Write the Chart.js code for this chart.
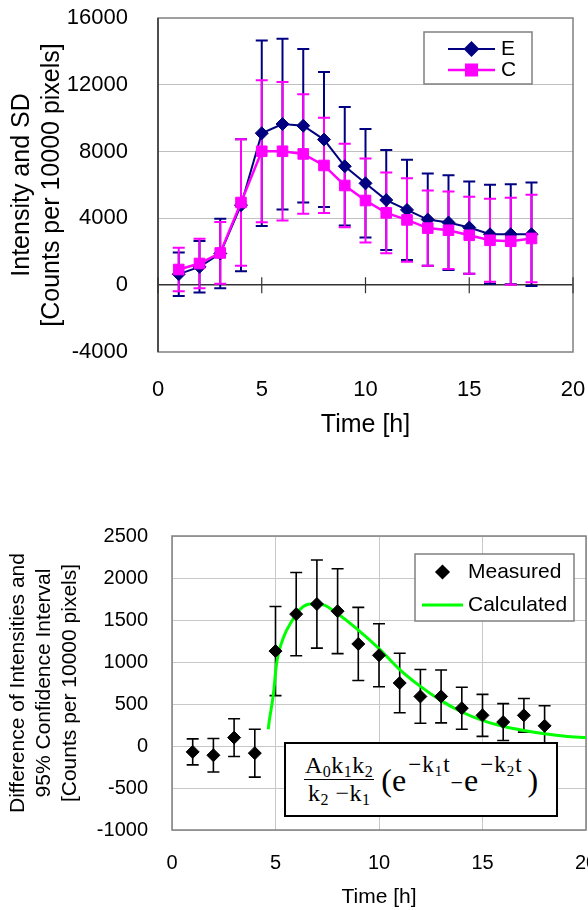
<!DOCTYPE html>
<html>
<head>
<meta charset="utf-8">
<title>Intensity charts</title>
<script src="https://cdn.jsdelivr.net/npm/chart.js@4.4.0/dist/chart.umd.min.js"></script>
<style>
  html, body { margin: 0; padding: 0; background: #fff; }
  #wrap { position: relative; width: 588px; height: 910px; overflow: hidden; }
  #topChart { position: absolute; left: 0; top: 0; }
  #bottomChart { position: absolute; left: 0; top: 460px; }
  #formula {
    position: absolute; left: 284px; top: 742px; width: 252px; height: 71px;
    border: 2px solid #000; background: #fff;
    font-family: "Liberation Serif", "Times New Roman", serif; color: #000;
    display: flex; align-items: center; padding-left: 18px; box-sizing: content-box;
    white-space: nowrap;
  }
  #formula .frac { display: inline-flex; flex-direction: column; align-items: center; font-size: 24px; line-height: 27px; letter-spacing: 0.5px; }
  #formula .num { border-bottom: 1.5px solid #000; padding: 0 1px 0; }
  #formula .den { padding-top: 0; }
  #formula sub { font-size: 16px; vertical-align: -4px; line-height: 0; }
  #formula .big { font-size: 32px; margin-left: 7px; line-height: 1; }
  #formula sup { font-size: 23px; vertical-align: 19px; line-height: 0; letter-spacing: 1px; margin-left: 2px; }
  #formula sup sub { font-size: 15px; vertical-align: -4px; }
  #formula .minus { font-size: 22px; vertical-align: 1px; margin-right: 1px; }
  #formula .close { margin-left: 5px; }
</style>
</head>
<body>
<div id="wrap">
  <canvas id="topChart" width="588" height="460"></canvas>
  <canvas id="bottomChart" width="588" height="450"></canvas>
  <div id="formula">
    <span class="frac"><span class="num">A<sub>0</sub>k<sub>1</sub>k<sub>2</sub></span><span class="den">k<sub>2</sub> &minus;k<sub>1</sub></span></span><span class="big">(e<sup>&minus;k<sub>1</sub>t</sup><span class="minus">&minus;</span>e<sup>&minus;k<sub>2</sub>t</sup><span class="close">)</span></span>
  </div>
</div>
<script>
// Top chart data
const hours = [1, 2, 3, 4, 5, 6, 7, 8, 9, 10, 11, 12, 13, 14, 15, 16, 17, 18];
const intensityE = [660, 1100, 1900, 4790, 9100, 9650, 9550, 8720, 7120, 6100, 5100, 4510, 3930, 3750, 3450, 3050, 3050, 3050];
const sdE = [1300, 1540, 2080, 3950, 5550, 5110, 4600, 4040, 3550, 3250, 2990, 3000, 2760, 2840, 2760, 2960, 3000, 3100];
const intensityC = [940, 1300, 1930, 4950, 8020, 8020, 7860, 7170, 5970, 5070, 4330, 3910, 3420, 3290, 2990, 2690, 2630, 2800];
const sdC = [1300, 1480, 1850, 3790, 4250, 4150, 3580, 2850, 2500, 2520, 2420, 2500, 2250, 2320, 2310, 2480, 2600, 2620];
const topYTicks = [-4000, 0, 4000, 8000, 12000, 16000];

// Bottom chart data
const diffMeasured = [-70, -110, 100, -85, 1130, 1570, 1690, 1605, 1215, 1080, 750, 590, 590, 450, 365, 285, 365, 240];
const diffCI = [155, 200, 225, 285, 530, 495, 525, 505, 435, 375, 355, 320, 315, 250, 250, 220, 200, 240];
const calcTime = [4.65, 4.7, 4.9, 5.05, 5.4, 5.8, 6.2, 6.7, 7.15, 8, 9, 10, 11, 12, 13, 14, 15, 16, 17, 18, 19, 20];
const calcValue = [200, 300, 620, 980, 1300, 1490, 1630, 1690, 1690, 1575, 1380, 1160, 910, 710, 540, 405, 305, 235, 185, 145, 115, 100];
const bottomYTicks = [-1000, -500, 0, 500, 1000, 1500, 2000, 2500];

const timeTicks = [0, 5, 10, 15, 20];

const FONT = "'Liberation Sans', Arial, sans-serif";

function pts(xs, ys) {
    return xs.map((x, i) => ({ x: x, y: ys[i] }));
}

// plain numbers, no thousands separator
const plain = v => String(v);

// plot frame + optional zero axis with tick marks
const frame = {
    id: 'frame',
    beforeDatasetsDraw(chart, args, opts) {
        const a = chart.chartArea;
        const ctx = chart.ctx;
        ctx.save();
        ctx.strokeStyle = opts.color || '#808080';
        ctx.lineWidth = 1.5;
        ctx.strokeRect(a.left, a.top, a.right - a.left, a.bottom - a.top);
        if (opts.leftColor) {
            ctx.strokeStyle = opts.leftColor;
            ctx.beginPath();
            ctx.moveTo(a.left, a.top);
            ctx.lineTo(a.left, a.bottom);
            ctx.stroke();
        }
        if (opts.zeroTicks) {
            const y0 = chart.scales.y.getPixelForValue(0);
            ctx.strokeStyle = opts.leftColor;
            ctx.lineWidth = 1.2;
            ctx.beginPath();
            timeTicks.forEach(t => {
                const x = chart.scales.x.getPixelForValue(t);
                ctx.moveTo(x, y0 - 8);
                ctx.lineTo(x, y0 + 8);
            });
            ctx.stroke();
        }
        ctx.restore();
    }
};

// vertical error bars from dataset.errors
const errorBars = {
    id: 'errorBars',
    beforeDatasetsDraw(chart) {
        const ctx = chart.ctx;
        const yScale = chart.scales.y;
        chart.data.datasets.forEach((ds, i) => {
            if (!ds.errors) return;
            const meta = chart.getDatasetMeta(i);
            const cap = ds.capHalf || 6;
            ctx.save();
            ctx.strokeStyle = ds.errorColor || ds.borderColor;
            ctx.lineWidth = ds.errorWidth || 2;
            ctx.beginPath();
            meta.data.forEach((pt, j) => {
                const v = ds.data[j].y;
                const e = ds.errors[j];
                const hi = yScale.getPixelForValue(v + e);
                const lo = yScale.getPixelForValue(v - e);
                ctx.moveTo(pt.x, hi); ctx.lineTo(pt.x, lo);
                ctx.moveTo(pt.x - cap, hi); ctx.lineTo(pt.x + cap, hi);
                ctx.moveTo(pt.x - cap, lo); ctx.lineTo(pt.x + cap, lo);
            });
            ctx.stroke();
            ctx.restore();
        });
    }
};

// boxed legend inside the plot
const boxLegend = {
    id: 'boxLegend',
    afterDraw(chart, args, o) {
        const ctx = chart.ctx;
        ctx.save();
        ctx.fillStyle = '#fff';
        ctx.fillRect(o.x, o.y, o.w, o.h);
        ctx.strokeStyle = '#808080';
        ctx.lineWidth = 1.5;
        ctx.strokeRect(o.x, o.y, o.w, o.h);
        ctx.font = o.font;
        ctx.textBaseline = 'middle';
        chart.data.datasets.forEach((ds, i) => {
            const ry = o.y + o.rowTop + i * o.rowGap;
            if (ds.showLine !== false) {
                ctx.strokeStyle = ds.borderColor;
                ctx.lineWidth = ds.borderWidth;
                ctx.beginPath();
                ctx.moveTo(o.x + o.lineX0, ry);
                ctx.lineTo(o.x + o.lineX1, ry);
                ctx.stroke();
            }
            if (ds.pointRadius > 0) {
                ctx.fillStyle = ds.backgroundColor;
                ctx.strokeStyle = ds.backgroundColor;
                Chart.helpers.drawPoint(ctx, { pointStyle: ds.pointStyle, radius: ds.pointRadius, borderWidth: 1, rotation: 0 },
                    o.x + (o.lineX0 + o.lineX1) / 2, ry);
            }
            ctx.fillStyle = '#000';
            ctx.fillText(ds.label, o.x + o.textX, ry);
        });
        ctx.restore();
    }
};

// fixed axis sizes, and no extra label padding pushed into the layout
function fixY(w) {
    return s => { s.width = w; s.paddingTop = 0; s.paddingBottom = 0; };
}
function fixX(h) {
    return s => { s.height = h; s.paddingLeft = 0; s.paddingRight = 0; };
}

// Intensity chart
new Chart(document.getElementById('topChart'), {
    type: 'line',
    data: {
        datasets: [
            {
                label: 'E',
                data: pts(hours, intensityE),
                errors: sdE,
                borderColor: '#000080',
                backgroundColor: '#000080',
                borderWidth: 2,
                pointStyle: 'rectRot',
                pointRadius: 6.5,
                pointBorderWidth: 1,
                tension: 0,
                order: 1
            },
            {
                label: 'C',
                data: pts(hours, intensityC),
                errors: sdC,
                borderColor: '#FF00FF',
                backgroundColor: '#FF00FF',
                borderWidth: 2.5,
                pointStyle: 'rect',
                pointRadius: 7.5,
                pointBorderWidth: 1,
                tension: 0,
                order: 0
            }
        ]
    },
    options: {
        responsive: false,
        animation: false,
        events: [],
        layout: { autoPadding: false, padding: { left: 0, top: 18, right: 15, bottom: 0 } },
        plugins: {
            legend: { display: false },
            tooltip: { enabled: false },
            frame: { color: '#808080', leftColor: '#333333', zeroTicks: true },
            boxLegend: { x: 424, y: 32, w: 108, h: 52, rowTop: 17, rowGap: 21, lineX0: 24, lineX1: 71, textX: 77, font: '21px ' + FONT }
        },
        scales: {
            x: {
                type: 'linear',
                min: timeTicks[0],
                max: timeTicks[timeTicks.length - 1],
                ticks: { stepSize: 5, padding: 25, color: '#000', font: { size: 22, family: FONT }, callback: plain },
                grid: { display: false, drawTicks: false },
                border: { display: false },
                title: { display: true, text: 'Time [h]', color: '#000', font: { size: 25, family: FONT }, padding: { top: 0, bottom: 20 } },
                afterFit: fixX(108)
            },
            y: {
                min: topYTicks[0],
                max: topYTicks[topYTicks.length - 1],
                ticks: { stepSize: 4000, padding: 30, color: '#000', font: { size: 22, family: FONT }, callback: plain },
                grid: {
                    drawTicks: false,
                    color: c => c.tick.value === 0 ? '#333333' : (c.tick.value > topYTicks[0] && c.tick.value < 16000 ? '#c0c0c0' : 'rgba(0,0,0,0)'),
                    lineWidth: c => c.tick.value === 0 ? 1.5 : 1
                },
                border: { display: false },
                title: {
                    display: true,
                    text: ['Intensity and SD', '[Counts per 10000 pixels]'],
                    color: '#000',
                    font: { size: 25, family: FONT, lineHeight: 1.2 },
                    padding: { top: 7, bottom: 0 }
                },
                afterFit: fixY(158)
            }
        }
    },
    plugins: [frame, errorBars, boxLegend]
});

// Difference chart
new Chart(document.getElementById('bottomChart'), {
    type: 'line',
    data: {
        datasets: [
            {
                label: 'Measured',
                data: pts(hours, diffMeasured),
                errors: diffCI,
                errorColor: '#000',
                errorWidth: 1.6,
                borderColor: '#000',
                backgroundColor: '#000',
                showLine: false,
                pointStyle: 'rectRot',
                pointRadius: 6.5,
                pointBorderWidth: 1,
                order: 0
            },
            {
                label: 'Calculated',
                data: pts(calcTime, calcValue),
                borderColor: '#00FF00',
                backgroundColor: '#00FF00',
                borderWidth: 3,
                pointRadius: 0,
                cubicInterpolationMode: 'monotone',
                order: 1
            }
        ]
    },
    options: {
        responsive: false,
        animation: false,
        events: [],
        layout: { autoPadding: false, padding: { left: 0, top: 76, right: 2, bottom: 0 } },
        plugins: {
            legend: { display: false },
            tooltip: { enabled: false },
            frame: { color: '#808080' },
            boxLegend: { x: 415, y: 94, w: 159, h: 67, rowTop: 18, rowGap: 33, lineX0: 7, lineX1: 48, textX: 53, font: '21px ' + FONT }
        },
        scales: {
            x: {
                type: 'linear',
                min: timeTicks[0],
                max: timeTicks[timeTicks.length - 1],
                ticks: { stepSize: 5, padding: 21, color: '#000', font: { size: 20, family: FONT }, callback: plain },
                grid: { drawTicks: false, color: '#c8c8c8' },
                border: { display: false },
                title: { display: true, text: 'Time [h]', color: '#000', font: { size: 21, family: FONT }, padding: { top: 0, bottom: 0 } },
                afterFit: fixX(80)
            },
            y: {
                min: bottomYTicks[0],
                max: bottomYTicks[bottomYTicks.length - 1],
                ticks: { stepSize: 500, padding: 24, color: '#000', font: { size: 20, family: FONT }, callback: plain },
                grid: { drawTicks: false, color: '#c8c8c8' },
                border: { display: false },
                title: {
                    display: true,
                    text: ['Difference of Intensities and', '95% Confidence Interval', '[Counts per 10000 pixels]'],
                    color: '#000',
                    font: { size: 21, family: FONT, lineHeight: 1.24 },
                    padding: { top: 5, bottom: 0 }
                },
                afterFit: fixY(172)
            }
        }
    },
    plugins: [frame, errorBars, boxLegend]
});
</script>
</body>
</html>
